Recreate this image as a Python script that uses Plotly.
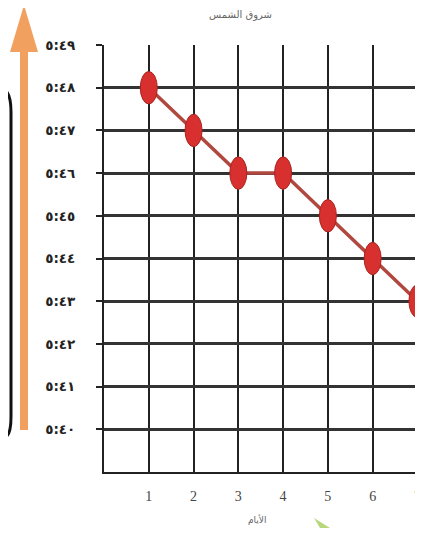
import plotly.graph_objects as go

days = [1, 2, 3, 4, 5, 6, 7]
sunrise_minutes = [48, 47, 46, 46, 45, 44, 43]   # minutes after 5:00
y_tick_minutes = [40, 41, 42, 43, 44, 45, 46, 47, 48, 49]
y_tick_labels = ["٥:٤٠", "٥:٤١", "٥:٤٢", "٥:٤٣", "٥:٤٤", "٥:٤٥", "٥:٤٦", "٥:٤٧", "٥:٤٨", "٥:٤٩"]
x_tick_labels = ["1", "2", "3", "4", "5", "6", "7"]
title_text = "شروق الشمس"
x_title_text = "الأيام"

fig = go.Figure()
fig.add_trace(go.Scatter(
    x=days, y=sunrise_minutes, mode="lines+markers",
    line=dict(color="#b04840", width=3.5),
    marker=dict(size=15, color="#d8302e", line=dict(color="#a82420", width=1)),
    cliponaxis=False, showlegend=False,
))

shapes = []
# elliptical markers from data
for d, m in zip(days, sunrise_minutes):
    shapes.append(dict(type="circle", xref="x", yref="y",
                       x0=d - 0.19, x1=d + 0.19, y0=m - 0.38, y1=m + 0.38,
                       fillcolor="#d8302e", line=dict(color="#a82420", width=1),
                       layer="above"))

# orange arrow (pixel offsets from plot bottom-left)
common = dict(xref="paper", yref="paper", xsizemode="pixel", ysizemode="pixel",
              xanchor=0, yanchor=0, layer="above")
shapes.append(dict(type="rect", x0=-84, x1=-76, y0=42, y1=428,
                   fillcolor="#f2a060", line=dict(width=0), **common))
shapes.append(dict(type="path", path="M -80,467 L -94,420 L -66,420 Z",
                   fillcolor="#f2a060", line=dict(width=0), **common))
# partial black rounded box at far left
shapes.append(dict(type="path",
                   path="M -97,36 Q -93,40 -93,56 L -93,360 Q -93,374 -97,380",
                   line=dict(color="#111", width=3), **common))
# small green arrow at bottom
shapes.append(dict(type="path", path="M 210,-46 L 226,-56 L 216,-56 Z",
                   fillcolor="#a6cc5a", line=dict(width=0), opacity=0.8, **common))

fig.update_layout(
    width=415, height=520,
    margin=dict(l=96, r=0, t=37, b=56),
    paper_bgcolor="white", plot_bgcolor="white",
    shapes=shapes,
    annotations=[
        dict(text=title_text, xref="paper", yref="paper", x=0.43, y=1.07,
             yanchor="middle", showarrow=False,
             font=dict(family="DejaVu Sans", size=10, color="#666")),
        dict(text=x_title_text, xref="paper", yref="paper", x=0.483, y=-0.112,
             yanchor="middle", showarrow=False,
             font=dict(family="DejaVu Sans", size=9, color="#666")),
    ],
    xaxis=dict(range=[0, 7.08], tickvals=days, ticktext=x_tick_labels,
               showgrid=True, gridcolor="#222", gridwidth=2,
               zeroline=False, showline=True, linecolor="#222", linewidth=2,
               mirror=False, ticks="outside", ticklen=10, tickcolor="rgba(0,0,0,0)",
               tickfont=dict(family="Liberation Serif", size=14, color="#444")),
    yaxis=dict(range=[39, 49], tickvals=y_tick_minutes, ticktext=y_tick_labels,
               showgrid=True, gridcolor="#333", gridwidth=2.5, zeroline=False,
               showline=True, linecolor="#222", linewidth=2, mirror=True,
               ticks="outside", ticklen=6, tickcolor="#222", tickwidth=1.5,
               ticklabelstandoff=18,
               tickfont=dict(family="DejaVu Sans", size=13.5, color="#222", weight="bold")),
)
fig.write_html("out.html")
